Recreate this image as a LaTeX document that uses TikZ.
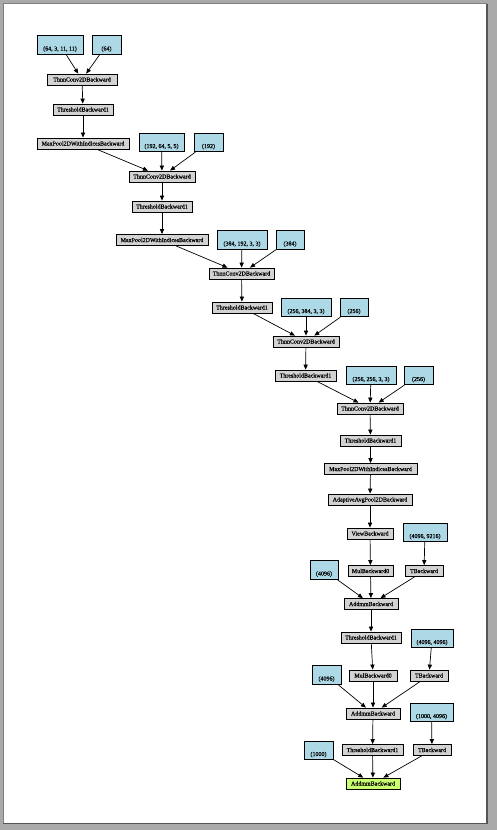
\documentclass[tikz,border=0pt]{standalone}
\usepackage{fontspec}
\setmainfont{Liberation Serif}
\newfontfamily\lblfont[FakeBold=0.6]{Liberation Serif}
\usetikzlibrary{arrows.meta}
\definecolor{bggray}{RGB}{170,170,170}
\definecolor{pageline}{RGB}{85,85,85}
\definecolor{parblue}{HTML}{ADD8E6}
\definecolor{opgray}{HTML}{D3D3D3}
\definecolor{outgreen}{HTML}{CAFF70}
\newcommand{\gtxt}[1]{\raisebox{-2pt}[0pt][0pt]{#1}}
\newcommand{\btxt}[1]{\raisebox{-5.5pt}[0pt][0pt]{#1}}
\tikzset{
  opbox/.style={draw=black, line width=0.8pt, fill=opgray, inner sep=0pt,
    minimum height=11pt, font=\lblfont\fontsize{6}{7}\selectfont},
  parbox/.style={draw=black, line width=0.8pt, fill=parblue, inner sep=0pt,
    minimum height=18.5pt, font=\lblfont\fontsize{6}{7}\selectfont},
  outbox/.style={opbox, fill=outgreen},
  edge/.style={draw=black, line width=0.7pt, -{Triangle[length=5pt,width=4.2pt]}}
}
\begin{document}
\begin{tikzpicture}[x=1pt,y=-1pt]
\useasboundingbox (0,0) rectangle (497,830);
\fill[bggray] (0,0) rectangle (497,830);
\fill[white] (3,3) rectangle (486.5,823);
\draw[gray, line width=0.5pt] (3,823) -- (3,3) -- (486.5,3);
\draw[pageline, line width=1.4pt] (486.8,3.5) -- (486.8,823.3) -- (3,823.3);

% parameter (blue) nodes
\node[parbox, minimum width=46pt] (a1) at (60,45) {\btxt{(64, 3, 11, 11)}};
\node[parbox, minimum width=29pt] (a2) at (106.5,45) {\btxt{(64)}};
\node[parbox, minimum width=45pt] (b1) at (161.5,142.5) {\btxt{(192, 64, 5, 5)}};
\node[parbox, minimum width=29pt] (b2) at (208.5,142.5) {\btxt{(192)}};
\node[parbox, minimum width=50pt] (c1) at (242,240) {\btxt{(384, 192, 3, 3)}};
\node[parbox, minimum width=28pt] (c2) at (290,240) {\btxt{(384)}};
\node[parbox, minimum width=50pt] (d1) at (306,307.5) {\btxt{(256, 384, 3, 3)}};
\node[parbox, minimum width=28pt] (d2) at (354,307.5) {\btxt{(256)}};
\node[parbox, minimum width=50pt] (e1) at (371,375.5) {\btxt{(256, 256, 3, 3)}};
\node[parbox, minimum width=29pt] (e2) at (418.5,375.5) {\btxt{(256)}};
\node[parbox, minimum width=44pt] (f1) at (425,532.5) {\btxt{(4096, 9216)}};
\node[parbox, minimum width=28pt] (g1) at (324,570) {\btxt{(4096)}};
\node[parbox, minimum width=42pt] (h1) at (432,638.5) {\btxt{(4096, 4096)}};
\node[parbox, minimum width=29pt] (i1) at (326.5,675) {\btxt{(4096)}};
\node[parbox, minimum width=43pt] (j1) at (431.5,712.5) {\btxt{(1000, 4096)}};
\node[parbox, minimum width=29pt] (k1) at (318.5,750.5) {\btxt{(1000)}};

% operation (gray) nodes
\node[opbox, minimum width=70pt] (n1) at (82,79.5) {\gtxt{ThnnConv2DBackward}};
\node[opbox, minimum width=60pt] (n2) at (83,109.5) {\gtxt{ThresholdBackward1}};
\node[opbox, minimum width=92pt] (n3) at (83,143.5) {\gtxt{MaxPool2DWithIndicesBackward}};
\node[opbox, minimum width=66pt] (n4) at (162,176.5) {\gtxt{ThnnConv2DBackward}};
\node[opbox, minimum width=60pt] (n5) at (162,206.5) {\gtxt{ThresholdBackward1}};
\node[opbox, minimum width=92pt] (n6) at (162,240) {\gtxt{MaxPool2DWithIndicesBackward}};
\node[opbox, minimum width=65pt] (n7) at (241.5,273.5) {\gtxt{ThnnConv2DBackward}};
\node[opbox, minimum width=60pt] (n8) at (242,307.5) {\gtxt{ThresholdBackward1}};
\node[opbox, minimum width=66pt] (n9) at (306,341.5) {\gtxt{ThnnConv2DBackward}};
\node[opbox, minimum width=61pt] (n10) at (305.5,375.5) {\gtxt{ThresholdBackward1}};
\node[opbox, minimum width=66pt] (n11) at (370,408.5) {\gtxt{ThnnConv2DBackward}};
\node[opbox, minimum width=61pt] (n12) at (370.5,440.5) {\gtxt{ThresholdBackward1}};
\node[opbox, minimum width=93pt] (n13) at (370.5,469) {\gtxt{MaxPool2DWithIndicesBackward}};
\node[opbox, minimum width=84pt] (n14) at (370,499.5) {\gtxt{AdaptiveAvgPool2DBackward}};
\node[opbox, minimum width=46pt] (n15) at (370,533.5) {\gtxt{ViewBackward}};
\node[opbox, minimum width=45pt] (n16) at (370.5,571) {\gtxt{MulBackward0}};
\node[opbox, minimum width=38pt] (n17) at (424,571) {\gtxt{TBackward}};
\node[opbox, minimum width=54pt] (n18) at (371,604) {\gtxt{AddmmBackward}};
\node[opbox, minimum width=60pt] (n19) at (371,637.5) {\gtxt{ThresholdBackward1}};
\node[opbox, minimum width=48pt] (n20) at (373,675.5) {\gtxt{MulBackward0}};
\node[opbox, minimum width=38pt] (n21) at (429,675.5) {\gtxt{TBackward}};
\node[opbox, minimum width=54pt] (n22) at (373,713.5) {\gtxt{AddmmBackward}};
\node[opbox, minimum width=61pt] (n23) at (372.5,750) {\gtxt{ThresholdBackward1}};
\node[opbox, minimum width=38pt] (n24) at (432,750) {\gtxt{TBackward}};
\node[outbox, minimum width=54pt] (n25) at (373,783.5) {\gtxt{AddmmBackward}};

% edges
\foreach \s/\t in {a1/n1, a2/n1, n1/n2, n2/n3, n3/n4, b1/n4, b2/n4, n4/n5, n5/n6,
  n6/n7, c1/n7, c2/n7, n7/n8, n8/n9, d1/n9, d2/n9, n9/n10, n10/n11, e1/n11, e2/n11,
  n11/n12, n12/n13, n13/n14, n14/n15, n15/n16, f1/n17, g1/n18, n16/n18, n17/n18,
  n18/n19, n19/n20, h1/n21, i1/n22, n20/n22, n21/n22, n22/n23, j1/n24, k1/n25,
  n23/n25, n24/n25}
  \draw[edge] (\s) -- (\t);
\end{tikzpicture}
\end{document}
